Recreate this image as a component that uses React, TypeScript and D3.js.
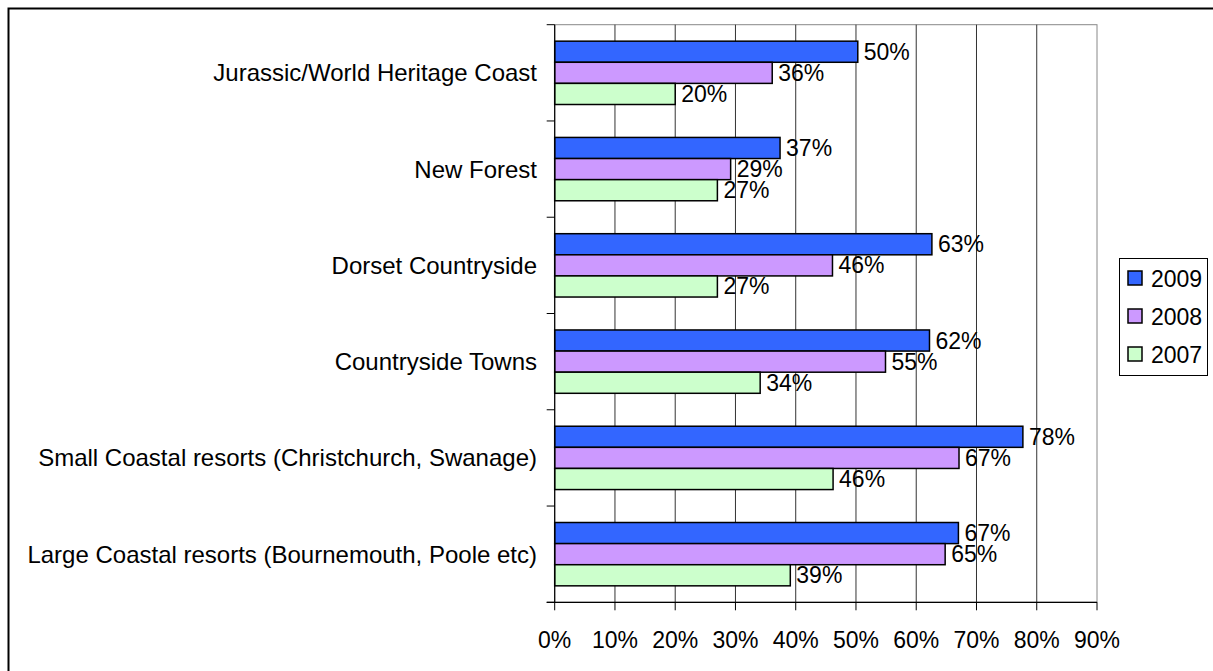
import React from "react";
import * as d3 from "d3";

const categories = [
  "Jurassic/World Heritage Coast",
  "New Forest",
  "Dorset Countryside",
  "Countryside Towns",
  "Small Coastal resorts (Christchurch, Swanage)",
  "Large Coastal resorts (Bournemouth, Poole etc)",
];
const seriesNames = ["2009", "2008", "2007"];
const values2009 = [50.3, 37.4, 62.6, 62.2, 77.7, 67.0];
const values2008 = [36.1, 29.2, 46.1, 54.9, 67.1, 64.8];
const values2007 = [20.0, 27.0, 27.0, 34.1, 46.2, 39.1];
const seriesValues = [values2009, values2008, values2007];
const seriesColors = ["#3366FF", "#CC99FF", "#CCFFCC"];
const xTicks = [0, 10, 20, 30, 40, 50, 60, 70, 80, 90];

const W = 1213;
const H = 671;
const FONT = "'Liberation Sans', Arial, sans-serif";
const FS = 23;
const FS_CAT = 24;

export default function App() {
  const left = 554.7;
  const right = 1097;
  const top = 24.7;
  const bottom = 602.3;

  const x = d3.scaleLinear().domain([0, 90]).range([left, right]);
  const y = d3
    .scaleBand<string>()
    .domain(categories)
    .range([top, bottom])
    .paddingInner(0)
    .paddingOuter(0);
  const inner = d3
    .scaleBand<string>()
    .domain(seriesNames)
    .range([0, y.bandwidth()])
    .paddingInner(0)
    .paddingOuter(0.78);

  const fmt = (v: number) => `${Math.round(v)}%`;
  const catTicks = d3.range(categories.length + 1).map((i) => top + i * y.step());

  return (
    <svg
      width={W}
      height={H}
      style={{ position: "absolute", left: 0, top: 0, background: "#fff" }}
      fontFamily={FONT}
    >
      <rect x={0} y={0} width={W} height={H} fill="#fff" />
      {/* outer chart border */}
      <rect x={8.5} y={8.5} width={W + 20} height={H + 20} fill="none" stroke="#000" strokeWidth={2} />

      {/* plot area border */}
      <rect x={left} y={top} width={right - left} height={bottom - top} fill="none" stroke="#888" strokeWidth={1} />

      {/* gridlines */}
      {xTicks.slice(1, -1).map((t) => (
        <line key={`g${t}`} x1={x(t)} x2={x(t)} y1={top} y2={bottom} stroke="#333" strokeWidth={1} />
      ))}

      {/* bars */}
      {categories.map((c, ci) => (
        <g key={c}>
          {seriesNames.map((s, si) => {
            const v = seriesValues[si][ci];
            const by = (y(c) as number) + (inner(s) as number);
            const bh = inner.bandwidth();
            return (
              <g key={s}>
                <rect
                  x={x(0)}
                  y={by}
                  width={x(v) - x(0)}
                  height={bh}
                  fill={seriesColors[si]}
                  stroke="#000"
                  strokeWidth={1.5}
                />
                <text x={x(v) + 6} y={by + bh / 2 + 8} fontSize={FS} fill="#000">
                  {fmt(v)}
                </text>
              </g>
            );
          })}
        </g>
      ))}

      {/* category axis */}
      <line x1={left} x2={left} y1={top} y2={bottom} stroke="#000" strokeWidth={1.2} />
      {catTicks.map((ty, i) => (
        <line key={`ct${i}`} x1={left - 8} x2={left} y1={ty} y2={ty} stroke="#000" strokeWidth={1} />
      ))}
      {categories.map((c) => (
        <text
          key={`cl${c}`}
          x={537}
          y={(y(c) as number) + y.bandwidth() / 2 + 8.5}
          textAnchor="end"
          fontSize={FS_CAT}
          fill="#000"
        >
          {c}
        </text>
      ))}

      {/* value axis */}
      <line x1={left - 8} x2={right} y1={bottom} y2={bottom} stroke="#000" strokeWidth={1.2} />
      {xTicks.map((t) => (
        <g key={`xt${t}`}>
          <line x1={x(t)} x2={x(t)} y1={bottom} y2={bottom + 8} stroke="#000" strokeWidth={1} />
          <text x={x(t)} y={648} textAnchor="middle" fontSize={FS} fill="#000">
            {`${t}%`}
          </text>
        </g>
      ))}

      {/* legend */}
      <rect x={1119.5} y={258.5} width={88} height={117} fill="#fff" stroke="#000" strokeWidth={1} />
      {seriesNames.map((s, i) => {
        const cy = 278.5 + i * 38;
        return (
          <g key={`lg${s}`}>
            <rect x={1128} y={cy - 7.5} width={14} height={14} fill={seriesColors[i]} stroke="#000" strokeWidth={1.5} />
            <text x={1151} y={cy + 8} fontSize={FS} fill="#000">
              {s}
            </text>
          </g>
        );
      })}
    </svg>
  );
}
